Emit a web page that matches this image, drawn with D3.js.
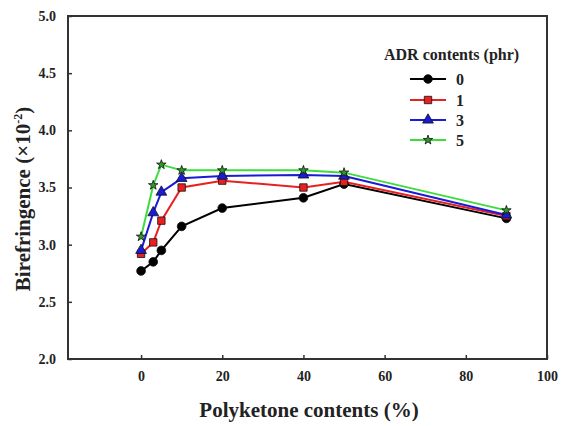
<!DOCTYPE html>
<html lang="en">
<head>
<meta charset="UTF-8">
<title>Birefringence vs Polyketone contents</title>
<script src="https://cdn.jsdelivr.net/npm/d3@7"></script>
<style>
  body { margin: 0; background: #fff; }
  text { font-family: "Liberation Serif", "Times New Roman", serif; font-weight: bold; }
</style>
</head>
<body>
<div id="container"></div>
<script>
// data
const pkContents = [0, 3, 5, 10, 20, 40, 50, 90];
const adr0 = [2.77, 2.85, 2.95, 3.16, 3.32, 3.41, 3.53, 3.23];
const adr1 = [2.92, 3.02, 3.21, 3.50, 3.56, 3.50, 3.55, 3.25];
const adr3 = [2.95, 3.28, 3.46, 3.58, 3.60, 3.61, 3.60, 3.26];
const adr5 = [3.07, 3.52, 3.70, 3.65, 3.65, 3.65, 3.63, 3.30];
const seriesNames = ["0", "1", "3", "5"];
const xTicks = [0, 20, 40, 60, 80, 100];
const yTicks = [2.0, 2.5, 3.0, 3.5, 4.0, 4.5, 5.0];

const W = 562, H = 426;
const mLeft = 68, mRight = 547, mTop = 16, mBottom = 359;

let svg = d3.select('#container')
    .append('svg')
    .attr('width', W)
    .attr('height', H);

let x = d3.scaleLinear().domain([-18, 100]).range([mLeft, mRight]);
let y = d3.scaleLinear().domain([2, 5]).range([mBottom, mTop]);

// frame
svg.append('rect')
    .attr('x', mLeft).attr('y', mTop)
    .attr('width', mRight - mLeft).attr('height', mBottom - mTop)
    .attr('fill', 'none').attr('stroke', '#333').attr('stroke-width', 2);

// axes with inward ticks
let xAxis = svg.append('g')
    .attr('transform', 'translate(0,' + mBottom + ')')
    .call(d3.axisBottom(x).tickValues(xTicks).tickSizeInner(-4).tickSizeOuter(0).tickPadding(10));
let yAxis = svg.append('g')
    .attr('transform', 'translate(' + mLeft + ',0)')
    .call(d3.axisLeft(y).tickValues(yTicks).tickFormat(d3.format('.1f')).tickSizeInner(-4).tickSizeOuter(0).tickPadding(12));

[xAxis, yAxis].forEach(g => {
    g.attr('font-family', null).attr('font-size', null);
    g.select('.domain').remove();
    g.selectAll('line').attr('stroke', '#333').attr('stroke-width', 1.5);
    g.selectAll('text').style('font-size', '14px').attr('fill', '#222');
});
xAxis.selectAll('text').attr('dy', '0.85em');

// axis titles
svg.append('text')
    .attr('x', 309).attr('y', 417)
    .attr('text-anchor', 'middle')
    .style('font-size', '21px').attr('fill', '#222')
    .text('Polyketone contents (%)');

let yt = svg.append('text')
    .attr('transform', 'translate(30,199) rotate(-90)')
    .attr('text-anchor', 'middle')
    .style('font-size', '21px').attr('fill', '#222');
yt.append('tspan').text('Birefringence (\u00d710');
yt.append('tspan').attr('dy', -8).style('font-size', '12px').text('-2');
yt.append('tspan').attr('dy', 8).text(')');

// series
let series = [
    { name: seriesNames[0], values: adr0, color: '#000000', fill: '#000000', shape: d3.symbolCircle, size: 60 },
    { name: seriesNames[1], values: adr1, color: '#e8201f', fill: '#e8201f', shape: d3.symbolSquare, size: 55 },
    { name: seriesNames[2], values: adr3, color: '#1a1ad8', fill: '#1a1ad8', shape: d3.symbolTriangle, size: 50 },
    { name: seriesNames[3], values: adr5, color: '#3ddc3d', fill: '#2e9a2e', shape: d3.symbolStar, size: 28 }
];

let line = d3.line()
    .x(d => x(d[0]))
    .y(d => y(d[1]));

series.forEach(s => {
    let pts = pkContents.map((c, i) => [c, s.values[i]]);
    svg.append('path')
        .datum(pts)
        .attr('d', line)
        .attr('fill', 'none')
        .attr('stroke', s.color)
        .attr('stroke-width', 2);
});

series.forEach(s => {
    let pts = pkContents.map((c, i) => [c, s.values[i]]);
    svg.selectAll(null)
        .data(pts)
        .enter()
        .append('path')
        .attr('transform', d => 'translate(' + x(d[0]) + ',' + y(d[1]) + ')')
        .attr('d', d3.symbol().type(s.shape).size(s.size))
        .attr('fill', s.fill)
        .attr('stroke', '#111')
        .attr('stroke-width', 0.8);
});

// legend
svg.append('text')
    .attr('x', 384).attr('y', 60)
    .style('font-size', '16px').attr('fill', '#222')
    .text('ADR contents (phr)');

let legendY = [79, 100, 120, 140];
series.forEach((s, i) => {
    let g = svg.append('g').attr('transform', 'translate(0,' + legendY[i] + ')');
    g.append('line')
        .attr('x1', 410).attr('x2', 446)
        .attr('stroke', s.color).attr('stroke-width', 2);
    g.append('path')
        .attr('transform', 'translate(428,0)')
        .attr('d', d3.symbol().type(s.shape).size(s.size))
        .attr('fill', s.fill).attr('stroke', '#111').attr('stroke-width', 0.8);
    g.append('text')
        .attr('x', 456).attr('y', 6)
        .style('font-size', '16px').attr('fill', '#222')
        .text(s.name);
});
</script>
</body>
</html>
